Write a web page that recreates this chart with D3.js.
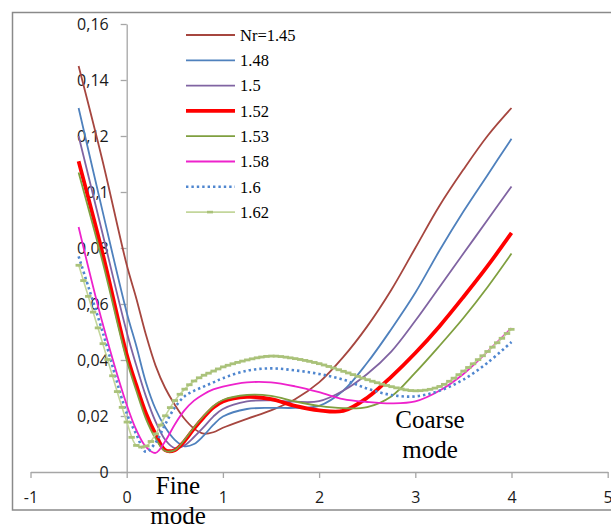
<!DOCTYPE html>
<html>
<head>
<meta charset="utf-8">
<script src="https://cdn.jsdelivr.net/npm/d3@7"></script>
<style>
  html, body { margin: 0; padding: 0; background: #fff; }
  svg { display: block; }
</style>
</head>
<body>
<svg id="chart" width="611" height="527"></svg>
<script>
// Chart data

var xValues = [-0.5, -0.25, 0, 0.1, 0.2, 0.3, 0.4, 0.5, 0.6, 0.7, 0.8, 0.9, 1, 1.25, 1.5, 1.75, 2, 2.25, 2.5, 2.75, 3, 3.25, 3.5, 3.75, 4];

var nr145 = [0.145, 0.111, 0.074, 0.062, 0.049, 0.038, 0.030, 0.024, 0.019, 0.0155, 0.0137, 0.0142, 0.0158, 0.019, 0.022, 0.026, 0.032, 0.041, 0.052, 0.065, 0.080, 0.095, 0.108, 0.120, 0.130];
var nr148 = [0.130, 0.093, 0.057, 0.045, 0.032, 0.0225, 0.016, 0.0115, 0.0092, 0.0100, 0.0130, 0.0168, 0.0198, 0.0225, 0.0229, 0.0229, 0.0236, 0.029, 0.039, 0.051, 0.064, 0.079, 0.093, 0.106, 0.119];
var nr150 = [0.120, 0.085, 0.050, 0.038, 0.027, 0.018, 0.0115, 0.0085, 0.0095, 0.0125, 0.016, 0.0198, 0.0225, 0.0252, 0.0256, 0.0251, 0.0253, 0.029, 0.035, 0.043, 0.054, 0.066, 0.078, 0.090, 0.102];
var nr152 = [0.111, 0.078, 0.042, 0.031, 0.021, 0.0135, 0.0078, 0.0078, 0.011, 0.0155, 0.0195, 0.023, 0.0252, 0.0268, 0.026, 0.0236, 0.022, 0.0218, 0.0265, 0.034, 0.0425, 0.052, 0.0625, 0.0735, 0.0854];
var nr153 = [0.107, 0.075, 0.040, 0.029, 0.019, 0.012, 0.0075, 0.0078, 0.0115, 0.016, 0.020, 0.0235, 0.0257, 0.0275, 0.0272, 0.0252, 0.0236, 0.0228, 0.0232, 0.027, 0.0355, 0.045, 0.055, 0.066, 0.078];
var nr158 = [0.0875, 0.053, 0.024, 0.015, 0.009, 0.0068, 0.011, 0.017, 0.022, 0.0255, 0.0278, 0.0295, 0.0305, 0.032, 0.032, 0.0306, 0.0285, 0.026, 0.025, 0.0245, 0.0252, 0.029, 0.035, 0.043, 0.0514];
var nr160 = [0.077, 0.050, 0.021, 0.0135, 0.0072, 0.0105, 0.017, 0.023, 0.027, 0.029, 0.0305, 0.032, 0.0335, 0.0362, 0.037, 0.0363, 0.035, 0.033, 0.0298, 0.0275, 0.027, 0.029, 0.033, 0.039, 0.0464];
var nr162 = [0.074, 0.046, 0.018, 0.0095, 0.0092, 0.0135, 0.020, 0.0255, 0.0295, 0.0325, 0.0345, 0.036, 0.0375, 0.040, 0.0414, 0.0405, 0.0387, 0.036, 0.033, 0.0305, 0.029, 0.0305, 0.036, 0.043, 0.051];

var seriesNames = ["Nr=1.45", "1.48", "1.5", "1.52", "1.53", "1.58", "1.6", "1.62"];

var xTicks = [-1, 0, 1, 2, 3, 4, 5];
var xTickLabels = ["-1", "0", "1", "2", "3", "4", "5"];
var yTicks = [0, 0.02, 0.04, 0.06, 0.08, 0.1, 0.12, 0.14, 0.16];
var yTickLabels = ["0", "0,02", "0,04", "0,06", "0,08", "0,1", "0,12", "0,14", "0,16"];

// Line styles

var styles = [
	{color: "#A6463F", width: 1.8},
	{color: "#4F81BD", width: 1.8},
	{color: "#8064A2", width: 1.8},
	{color: "#FF0000", width: 3.8},
	{color: "#7F9F3F", width: 1.8},
	{color: "#EE22CC", width: 1.8},
	{color: "#4F86CF", width: 2.6, dash: "2.4,3"},
	{color: "#C3D69B", width: 1.6, markers: true}
];

var allSeries = [nr145, nr148, nr150, nr152, nr153, nr158, nr160, nr162];

var svg = d3.select("#chart");

// Outer chart border

svg.append("rect")
	.attr("x", 12.5)
	.attr("y", 12.5)
	.attr("width", 620)
	.attr("height", 497.5)
	.attr("fill", "none")
	.attr("stroke", "#8a8a8a")
	.attr("stroke-width", 1.5);

// Scales

var x = d3.scaleLinear().domain([-1, 5]).range([30.5, 607.7]);
var y = d3.scaleLinear().domain([0, 0.16]).range([472, 24]);

// Axes

var xAxis = svg.append("g")
	.attr("transform", "translate(0," + y(0) + ")")
	.call(d3.axisBottom(x)
		.tickValues(xTicks)
		.tickFormat((d, i) => xTickLabels[i])
		.tickSize(6)
		.tickSizeOuter(0)
		.tickPadding(14));

var yAxis = svg.append("g")
	.attr("transform", "translate(" + x(0) + ",0)")
	.call(d3.axisLeft(y)
		.tickValues(yTicks)
		.tickFormat((d, i) => yTickLabels[i])
		.tickSize(6)
		.tickSizeOuter(0)
		.tickPadding(12));

svg.selectAll(".domain, .tick line")
	.attr("stroke", "#a6a6a6")
	.attr("stroke-width", 1.3);

svg.selectAll(".tick text")
	.attr("fill", "#1a1a1a")
	.style("font-family", "'Open Sans', 'Noto Sans', sans-serif")
	.style("font-size", "16px");

// Draw series lines

var line = d3.line()
	.x((d, i) => x(xValues[i]))
	.y(d => y(d))
	.curve(d3.curveCatmullRom.alpha(0.5));

var lines = svg.append("g").attr("class", "lines");

allSeries.forEach((values, k) => {
	var st = styles[k];
	var path = lines.append("path")
		.datum(values)
		.attr("d", line)
		.attr("fill", "none")
		.attr("stroke", st.color)
		.attr("stroke-width", st.width)
		.attr("stroke-linejoin", "round");
	if (st.dash)
		path.attr("stroke-dasharray", st.dash);
	if (st.markers)
		addMarkers(path.node(), st.color);
});

// Dash markers along the 1.62 line, every 0.05 on the x axis

function addMarkers(node, color)
{
	var total = node.getTotalLength(),
		samples = [];
	for (var l = 0; l <= total; l += 0.5)
		samples.push(node.getPointAtLength(l));
	var bis = d3.bisector(p => p.x).left;
	var g = lines.append("g");
	for (var xv = xValues[0]; xv <= xValues[xValues.length - 1] + 1e-9; xv += 0.05) {
		var px = x(xv),
			p = samples[Math.min(bis(samples, px), samples.length - 1)];
		g.append("rect")
			.attr("x", p.x - 3.2)
			.attr("y", p.y - 1.4)
			.attr("width", 6.4)
			.attr("height", 2.8)
			.attr("fill", "#AAC27A");
	}
}

// Legend

var legend = svg.append("g").attr("class", "legend");

seriesNames.forEach((name, k) => {
	var st = styles[k],
		ly = 35 + k * 25.3;
	var ln = legend.append("line")
		.attr("x1", 186).attr("x2", 235)
		.attr("y1", ly).attr("y2", ly)
		.attr("stroke", st.color)
		.attr("stroke-width", st.width);
	if (st.dash)
		ln.attr("stroke-dasharray", st.dash);
	if (st.markers)
		legend.append("rect")
			.attr("x", 207).attr("y", ly - 1.3)
			.attr("width", 6).attr("height", 2.6)
			.attr("fill", "#AAC27A");
	legend.append("text")
		.attr("x", 240)
		.attr("y", ly)
		.attr("dy", "0.35em")
		.attr("fill", "#000")
		.style("font-family", "'Liberation Serif', 'Times New Roman', serif")
		.style("font-size", "16.5px")
		.text(name);
});

// Mode annotations

var notes = [
	{lines: ["Fine", "mode"], x: 178, y: 494},
	{lines: ["Coarse", "mode"], x: 430, y: 428}
];

notes.forEach(n => {
	n.lines.forEach((t, i) => {
		svg.append("text")
			.attr("x", n.x)
			.attr("y", n.y + i * 30)
			.attr("text-anchor", "middle")
			.attr("fill", "#000")
			.style("font-family", "'Liberation Serif', 'Times New Roman', serif")
			.style("font-size", "25px")
			.text(t);
	});
});
</script>
</body>
</html>
